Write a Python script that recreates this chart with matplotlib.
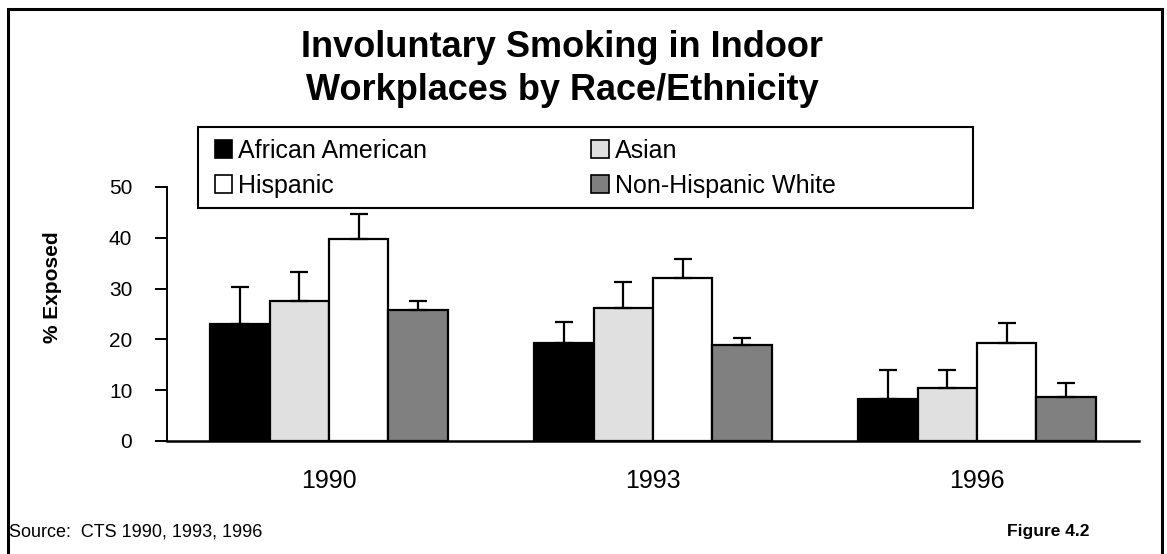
import numpy as np
import matplotlib
matplotlib.use("Agg")
import matplotlib.pyplot as plt
from matplotlib.patches import Patch, Rectangle

plt.rcParams['font.family'] = ['Liberation Sans', 'DejaVu Sans']

# ---- data ----
years = ['1990', '1993', '1996']
groups = ['African American', 'Asian', 'Hispanic', 'Non-Hispanic White']
african_american = [23.0, 19.2, 8.3]
asian = [27.6, 26.1, 10.4]
hispanic = [39.7, 32.0, 19.3]
nh_white = [25.8, 18.8, 8.7]
# upper end of the error bars
african_american_hi = [30.4, 23.5, 14.0]
asian_hi = [33.3, 31.2, 13.9]
hispanic_hi = [44.7, 35.8, 23.2]
nh_white_hi = [27.6, 20.3, 11.4]

colors = ['#000000', '#e0e0e0', '#ffffff', '#808080']

fig = plt.figure(figsize=(11.67, 5.54), dpi=100)
ax = fig.add_axes([0.1431, 0.2040, 0.8329, 0.4585])

x = np.arange(len(years))
w = 0.183
vals = [african_american, asian, hispanic, nh_white]
his = [african_american_hi, asian_hi, hispanic_hi, nh_white_hi]
for i, (v, h, c) in enumerate(zip(vals, his, colors)):
    v = np.array(v)
    err = np.array(h) - v
    ax.bar(x + (i - 1.5) * w, v, w, color=c, edgecolor='black', linewidth=1.6,
           yerr=[np.zeros_like(err), err], capsize=6.5,
           error_kw=dict(elinewidth=1.6, capthick=1.6, ecolor='black'), zorder=2)

ax.set_xlim(-0.5, 2.5)
ax.set_ylim(0, 50)
ax.set_yticks([0, 10, 20, 30, 40, 50])
ax.tick_params(axis='y', length=9, width=1.4, pad=16, labelsize=15, direction='out')
ax.tick_params(axis='x', length=0, pad=20, labelsize=18)
ax.set_xticks(x)
ax.set_xticklabels(years)
for s in ['top', 'right']:
    ax.spines[s].set_visible(False)
ax.spines['left'].set_linewidth(1.4)
ax.spines['bottom'].set_linewidth(1.8)

fig.text(0.045, 0.482, '% Exposed', rotation=90, ha='center', va='center',
         fontsize=15, fontweight='bold')

fig.text(0.4816, 0.875, 'Involuntary Smoking in Indoor\nWorkplaces by Race/Ethnicity',
         ha='center', va='center', fontsize=26, fontweight='bold', linespacing=1.28)

# legend: column-wise order so rows read AA/Asian, Hispanic/NH White
order = [0, 2, 1, 3]
handles = [Patch(facecolor=colors[i], edgecolor='black', linewidth=1.2) for i in order]
labels = [groups[i] for i in order]
leg = fig.legend(handles, labels, ncol=2, loc='upper left',
                 bbox_to_anchor=(0.184, 0.750), fontsize=18, frameon=False,
                 handlelength=0.7, handleheight=0.7, handletextpad=0.25,
                 columnspacing=6.55, labelspacing=0.45, borderpad=0, borderaxespad=0)
# legend box as in the original, wider than the text
fig.add_artist(Rectangle((198 / 1167, 1 - 208 / 554), 775 / 1167, 81 / 554,
                         transform=fig.transFigure, fill=False,
                         edgecolor='black', linewidth=1.5))

fig.text(0.008, 0.040, 'Source:  CTS 1990, 1993, 1996', fontsize=13, ha='left', va='center')
fig.text(0.934, 0.040, 'Figure 4.2', fontsize=12.5, fontweight='bold', ha='right', va='center')

# outer frame, open at the bottom edge of the image
fig.add_artist(Rectangle((0.0072, -0.05), 0.9885, 1.034, transform=fig.transFigure,
                         fill=False, edgecolor='black', linewidth=2.2))

fig.savefig('out.png', dpi=100)
